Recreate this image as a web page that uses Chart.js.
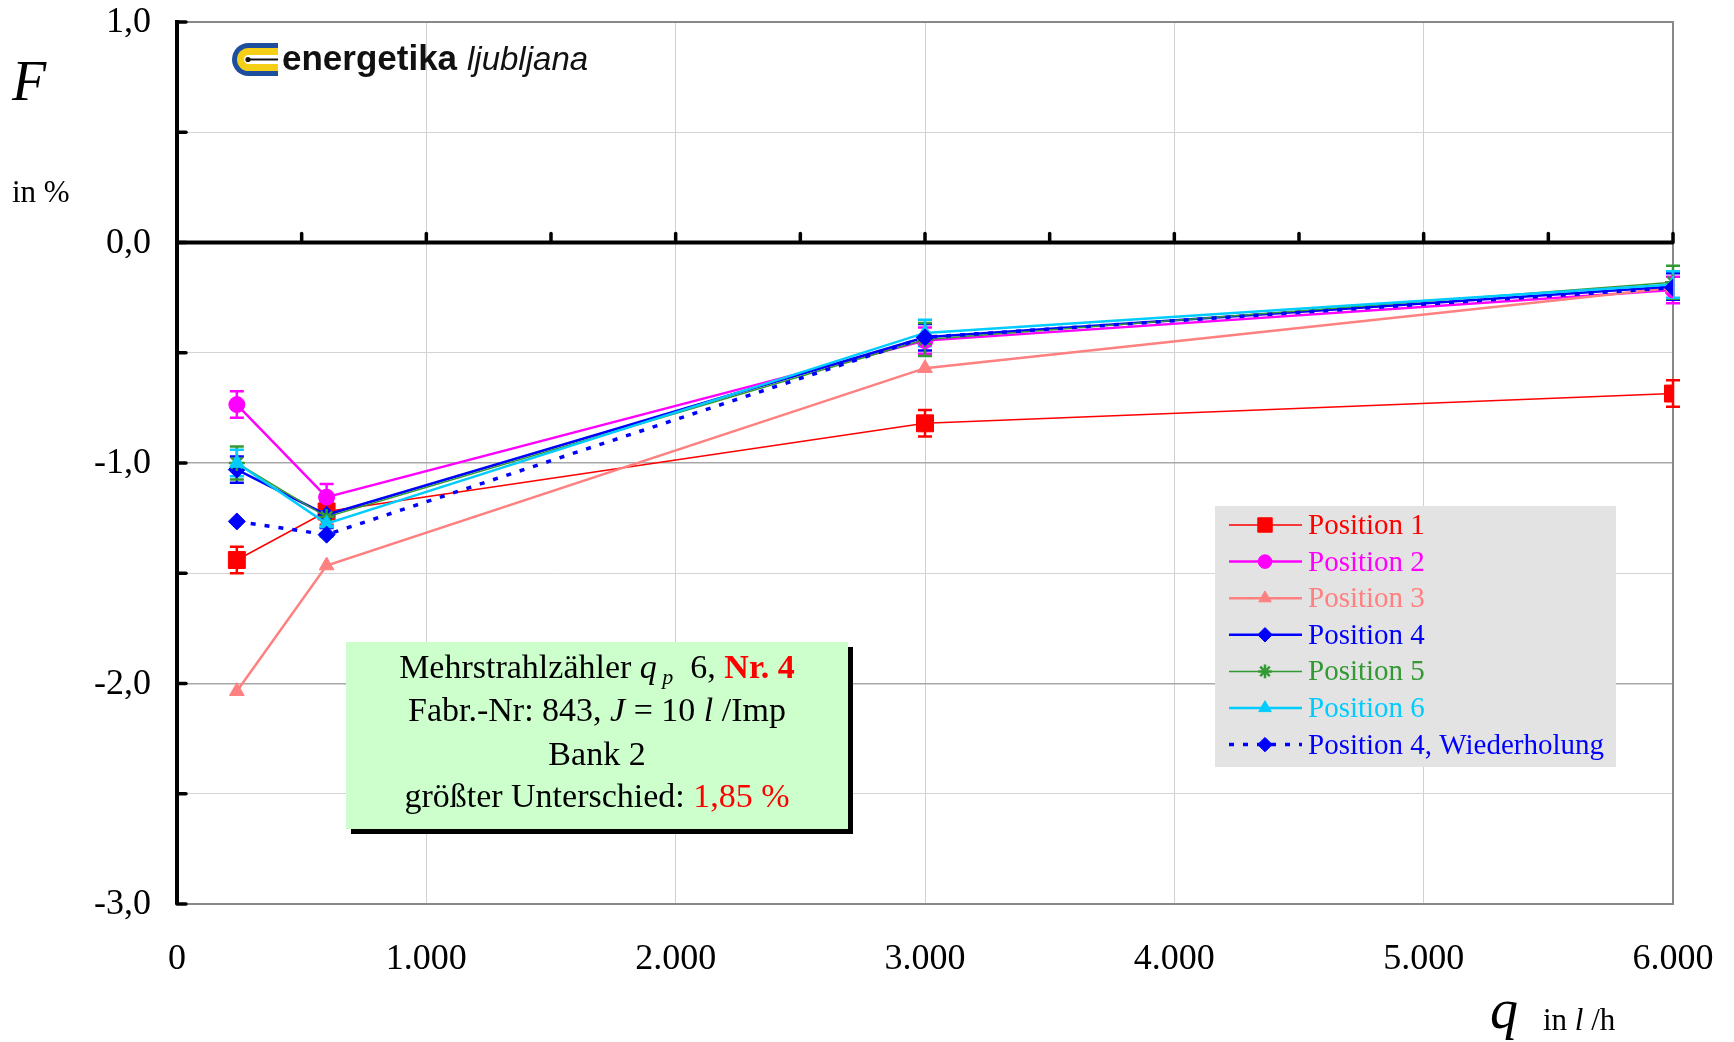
<!DOCTYPE html>
<html>
<head>
<meta charset="utf-8">
<script src="https://cdn.jsdelivr.net/npm/chart.js@4.4.0/dist/chart.umd.min.js"></script>
<style>
html, body { margin: 0; padding: 0; background: #fff; }
#wrap { width: 1734px; height: 1042px; }
</style>
</head>
<body>
<div id="wrap"><canvas id="chart" width="1734" height="1042"></canvas></div>
<script>
// Durchfluss q in l/h
var flowRates = [240, 600, 3000, 6000];

// Messabweichung F in %
var position1 = [-1.44, -1.22, -0.82, -0.685];
var position2 = [-0.735, -1.155, -0.445, -0.215];
var position3 = [-2.035, -1.465, -0.57, -0.205];
var position4 = [-1.03, -1.235, -0.43, -0.2];
var position5 = [-1.0, -1.245, -0.44, -0.18];
var position6 = [-1.0, -1.275, -0.41, -0.19];
var position4w = [-1.265, -1.325, -0.43, -0.205];

var seriesNames = ['Position 1', 'Position 2', 'Position 3', 'Position 4', 'Position 5', 'Position 6', 'Position 4, Wiederholung'];
var errorHalf = [0.06, 0.06, 0, 0.06, 0.075, 0.06, 0];

var xTickValues = [0, 1000, 2000, 3000, 4000, 5000, 6000];
var xTickLabels = ['0', '1.000', '2.000', '3.000', '4.000', '5.000', '6.000'];
var yTickValues = [1, 0, -1, -2, -3];
var yTickLabels = ['1,0', '0,0', '-1,0', '-2,0', '-3,0'];

var serif = '"Liberation Serif", "Times New Roman", serif';

function makeSeries(i, values, color, width, style, radius, dash) {
    return {
        label: seriesNames[i],
        data: flowRates.map(function(x, j) { return { x: x, y: values[j] }; }),
        borderColor: color,
        backgroundColor: color,
        borderWidth: width,
        borderDash: dash || [],
        pointStyle: style,
        pointRadius: radius,
        pointHoverRadius: radius,
        pointBackgroundColor: color,
        pointBorderColor: color,
        pointBorderWidth: style == 'star' ? 2.5 : 1,
        showLine: true,
        tension: 0,
        order: 10 - i,
        errHalf: errorHalf[i],
        values: values
    };
}

var datasets = [
    makeSeries(0, position1, '#ff0000', 1.5, 'rect', 12),
    makeSeries(1, position2, '#ff00ff', 2.5, 'circle', 8),
    makeSeries(2, position3, '#ff8080', 2.5, 'triangle', 8.5),
    makeSeries(3, position4, '#0000ff', 2.5, 'rectRot', 8.5),
    makeSeries(4, position5, '#339933', 1.5, 'star', 8),
    makeSeries(5, position6, '#00ccff', 2.5, 'triangle', 8.5),
    makeSeries(6, position4w, '#0000ff', 3.5, 'rectRot', 8.5, [5, 9])
];

function richLine(ctx, segs, x0, y, align) {
    var total = 0;
    segs.forEach(function(s) { ctx.font = s.f; s.w = ctx.measureText(s.t).width; total += s.w; });
    var x = align == 'left' ? x0 : x0 - total / 2;
    segs.forEach(function(s) {
        ctx.font = s.f;
        ctx.fillStyle = s.c || '#000';
        ctx.fillText(s.t, x, y + (s.dy || 0));
        x += s.w;
    });
}

var extras = {
    id: 'extras',
    beforeDatasetsDraw: function(chart) {
        var ctx = chart.ctx, a = chart.chartArea, xs = chart.scales.x, ys = chart.scales.y;
        ctx.save();

        // frame top / right
        ctx.strokeStyle = '#888';
        ctx.lineWidth = 2;
        ctx.beginPath();
        ctx.moveTo(a.left, a.top);
        ctx.lineTo(a.right, a.top);
        ctx.lineTo(a.right, a.bottom);
        ctx.stroke();

        // zero line with ticks
        var y0 = ys.getPixelForValue(0);
        ctx.strokeStyle = '#000';
        ctx.lineWidth = 4;
        ctx.beginPath();
        ctx.moveTo(a.left, y0);
        ctx.lineTo(a.right, y0);
        ctx.stroke();
        ctx.lineWidth = 3.5;
        ctx.lineCap = 'round';
        for (var v = 500; v <= 6000; v += 500) {
            var px = xs.getPixelForValue(v);
            ctx.beginPath();
            ctx.moveTo(px, y0);
            ctx.lineTo(px, y0 - 9);
            ctx.stroke();
        }
        // y tick stubs
        for (var t = -3; t <= 1; t += 0.5) {
            var py = ys.getPixelForValue(t);
            ctx.beginPath();
            ctx.moveTo(a.left, py);
            ctx.lineTo(a.left + 9, py);
            ctx.stroke();
        }
        ctx.lineCap = 'butt';

        // logo
        function leftRound(x1, y1, x2, y2) {
            var r = (y2 - y1) / 2;
            ctx.beginPath();
            ctx.moveTo(x2, y1);
            ctx.lineTo(x1 + r, y1);
            ctx.arc(x1 + r, y1 + r, r, -Math.PI / 2, Math.PI / 2, true);
            ctx.lineTo(x2, y2);
            ctx.closePath();
            ctx.fill();
        }
        ctx.fillStyle = '#1d4f9e';
        leftRound(232, 43, 278, 76);
        ctx.fillStyle = '#f4cf16';
        leftRound(237, 48, 278, 71);
        ctx.fillStyle = '#fff';
        leftRound(244, 55, 278, 64);
        ctx.strokeStyle = '#111';
        ctx.lineWidth = 2;
        ctx.beginPath();
        ctx.moveTo(248, 59.5);
        ctx.lineTo(278, 59.5);
        ctx.stroke();
        ctx.fillStyle = '#111';
        ctx.beginPath();
        ctx.arc(248, 59.5, 2.6, 0, Math.PI * 2);
        ctx.fill();
        ctx.textBaseline = 'alphabetic';
        ctx.textAlign = 'left';
        ctx.font = 'bold 35px "Liberation Sans", Arial, sans-serif';
        ctx.fillText('energetika', 282, 70);
        ctx.font = 'italic 33px "Liberation Sans", Arial, sans-serif';
        ctx.fillText('ljubljana', 467, 70);

        // error bars
        chart.data.datasets.forEach(function(ds) {
            if (!ds.errHalf) return;
            ctx.strokeStyle = ds.borderColor;
            ctx.lineWidth = 2.5;
            ds.values.forEach(function(val, j) {
                var px = xs.getPixelForValue(flowRates[j]);
                var top = ys.getPixelForValue(val + ds.errHalf);
                var bot = ys.getPixelForValue(val - ds.errHalf);
                ctx.beginPath();
                ctx.moveTo(px, top); ctx.lineTo(px, bot);
                ctx.moveTo(px - 7, top); ctx.lineTo(px + 7, top);
                ctx.moveTo(px - 7, bot); ctx.lineTo(px + 7, bot);
                ctx.stroke();
            });
        });
        ctx.restore();
    },
    afterDraw: function(chart) {
        var ctx = chart.ctx, a = chart.chartArea, xs = chart.scales.x, ys = chart.scales.y;
        ctx.save();

        // tick labels
        ctx.fillStyle = '#000';
        ctx.font = '36px ' + serif;
        ctx.textBaseline = 'middle';
        ctx.textAlign = 'center';
        xTickValues.forEach(function(v, i) {
            ctx.fillText(xTickLabels[i], xs.getPixelForValue(v), 960);
        });
        ctx.textAlign = 'right';
        yTickValues.forEach(function(v, i) {
            ctx.fillText(yTickLabels[i], 151, ys.getPixelForValue(v) + 1);
        });

        // axis titles
        ctx.textAlign = 'left';
        ctx.textBaseline = 'alphabetic';
        ctx.font = 'italic 56px ' + serif;
        ctx.fillText('F', 12, 100);
        ctx.font = '31px ' + serif;
        ctx.fillText('in %', 12, 202);
        ctx.font = 'italic 56px ' + serif;
        ctx.fillText('q', 1490, 1028);
        richLine(ctx, [
            { t: 'in ', f: '31px ' + serif },
            { t: 'l', f: 'italic 31px ' + serif },
            { t: ' /h', f: '31px ' + serif }
        ], 1543, 1030, 'left');

        // legend
        ctx.fillStyle = '#e3e3e3';
        ctx.fillRect(1215, 506, 401, 261);
        chart.data.datasets.forEach(function(ds, i) {
            var base = 534 + i * 36.6;
            var ly = base - 9;
            ctx.strokeStyle = ds.borderColor;
            ctx.lineWidth = ds.borderWidth;
            ctx.setLineDash(ds.borderDash);
            ctx.beginPath();
            ctx.moveTo(1229, ly);
            ctx.lineTo(1302, ly);
            ctx.stroke();
            ctx.setLineDash([]);
            ctx.fillStyle = ds.borderColor;
            ctx.lineWidth = ds.pointBorderWidth;
            Chart.helpers.drawPoint(ctx, {
                pointStyle: ds.pointStyle,
                radius: ds.pointRadius * 0.85,
                rotation: 0,
                borderWidth: ds.pointBorderWidth
            }, 1265, ly);
            ctx.font = '29px ' + serif;
            ctx.fillStyle = ds.borderColor;
            ctx.fillText(ds.label, 1308, base);
        });

        // info box
        ctx.fillStyle = '#000';
        ctx.fillRect(351, 647, 502, 187);
        ctx.fillStyle = '#ccffcc';
        ctx.fillRect(346, 642, 502, 187);
        var N = '34px ' + serif, I = 'italic 34px ' + serif, B = 'bold 34px ' + serif, S = 'italic 22px ' + serif;
        var cx = 597;
        richLine(ctx, [
            { t: 'Mehrstrahlzähler ', f: N },
            { t: 'q', f: I },
            { t: ' p', f: S, dy: 6 },
            { t: '  6, ', f: N },
            { t: 'Nr. 4', f: B, c: '#ff0000' }
        ], cx, 678);
        richLine(ctx, [
            { t: 'Fabr.-Nr: 843, ', f: N },
            { t: 'J', f: I },
            { t: ' = 10 ', f: N },
            { t: 'l', f: I },
            { t: ' /Imp', f: N }
        ], cx, 721);
        richLine(ctx, [{ t: 'Bank 2', f: N }], cx, 765);
        richLine(ctx, [
            { t: 'größter Unterschied: ', f: N },
            { t: '1,85 %', f: N, c: '#ff0000' }
        ], cx, 807);
        ctx.restore();
    }
};

var ctx = document.getElementById('chart').getContext('2d');
var chart = new Chart(ctx, {
    type: 'scatter',
    data: { datasets: datasets },
    options: {
        responsive: false,
        animation: false,
        devicePixelRatio: 1,
        layout: { padding: { left: 0, top: 22, right: 61, bottom: 0 } },
        plugins: {
            legend: { display: false },
            tooltip: { enabled: false }
        },
        scales: {
            x: {
                type: 'linear',
                min: 0,
                max: 6000,
                afterFit: function(scale) { scale.height = 138; },
                ticks: { stepSize: 1000, display: false },
                grid: { color: '#d0d0d0', lineWidth: 1, drawTicks: false },
                border: { color: '#888', width: 2 }
            },
            y: {
                min: -3,
                max: 1,
                afterFit: function(scale) { scale.width = 177; },
                ticks: { stepSize: 0.5, display: false },
                grid: {
                    drawTicks: false,
                    color: function(c) {
                        var v = c.tick.value;
                        if (v === 0) return 'rgba(0,0,0,0)';
                        return Math.abs(v - Math.round(v)) < 1e-6 ? '#a8a8a8' : '#d4d4d4';
                    },
                    lineWidth: function(c) {
                        var v = c.tick.value;
                        return Math.abs(v - Math.round(v)) < 1e-6 ? 1.5 : 1;
                    }
                },
                border: { color: '#000', width: 4 }
            }
        }
    },
    plugins: [extras]
});
</script>
</body>
</html>
